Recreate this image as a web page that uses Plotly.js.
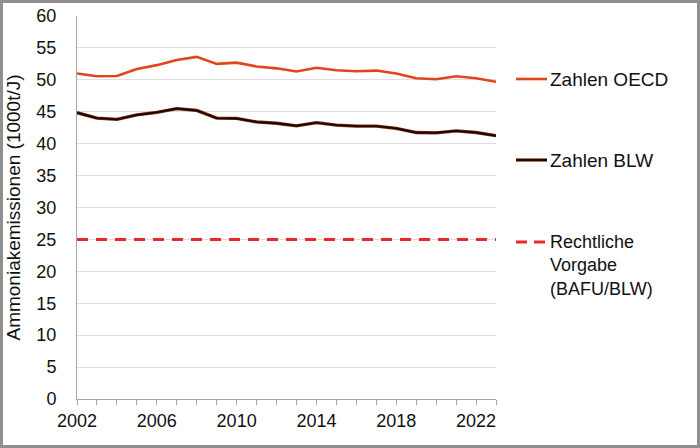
<!DOCTYPE html>
<html>
<head>
<meta charset="utf-8">
<script src="https://cdn.plot.ly/plotly-3.0.1.min.js"></script>
<style>
  html, body { margin: 0; padding: 0; background: #fff; }
  #wrap { position: relative; width: 700px; height: 448px; }
  #chart { width: 700px; height: 448px; }
  #frame { position: absolute; left: 0; top: 0; width: 700px; height: 448px;
           box-sizing: border-box; border: 3px solid #8f8f8f; pointer-events: none; }
</style>
</head>
<body>
<div id="wrap"><div id="chart"></div><div id="frame"></div></div>
<script>
// Ammonia emissions in Switzerland, 1000 t per year
const years = [2002, 2003, 2004, 2005, 2006, 2007, 2008, 2009, 2010, 2011, 2012,
               2013, 2014, 2015, 2016, 2017, 2018, 2019, 2020, 2021, 2022, 2023];
const oecd = [51.0, 50.55, 50.6, 51.7, 52.3, 53.1, 53.6, 52.5, 52.7, 52.1, 51.8,
              51.3, 51.9, 51.5, 51.35, 51.45, 51.0, 50.25, 50.1, 50.55, 50.25, 49.7];
const blw = [44.85, 44.0, 43.8, 44.5, 44.9, 45.5, 45.2, 44.0, 43.95, 43.4, 43.2,
             42.8, 43.3, 42.9, 42.75, 42.75, 42.4, 41.75, 41.7, 42.0, 41.75, 41.25];
const target = [25, 25, 25, 25, 25, 25, 25, 25, 25, 25, 25,
                25, 25, 25, 25, 25, 25, 25, 25, 25, 25, 25];

const legendLabels = ['Zahlen OECD', 'Zahlen BLW', 'Rechtliche<br>Vorgabe<br>(BAFU/BLW)'];
const yTitle = 'Ammoniakemissionen (1000t/J)';

const cOecd = '#e0451b';
const cBlwEdge = '#7e2a10';
const cBlw = '#1c0703';
const cTarget = '#e8292b';

const traces = [
  { x: years, y: target, type: 'scatter', mode: 'lines', name: 'Rechtliche Vorgabe',
    line: { color: cTarget, width: 3, dash: '11px,8px' }, hoverinfo: 'skip' },
  { x: years, y: oecd, type: 'scatter', mode: 'lines', name: 'Zahlen OECD',
    line: { color: cOecd, width: 2.6 } },
  { x: years, y: blw, type: 'scatter', mode: 'lines', name: 'BLW edge',
    line: { color: cBlwEdge, width: 3.3 }, hoverinfo: 'skip' },
  { x: years, y: blw, type: 'scatter', mode: 'lines', name: 'Zahlen BLW',
    line: { color: cBlw, width: 1.9 } }
];

const font = { family: 'Liberation Sans, Arial, sans-serif', size: 18, color: '#111' };
const bigFont = { family: 'Liberation Sans, Arial, sans-serif', size: 19, color: '#111' };

// legend drawn beside the plot area (paper coords)
const px = v => (v - 77) / 419;
const py = v => (399 - v) / 383;

const shapes = [
  { type: 'line', xref: 'paper', yref: 'paper', x0: px(516), x1: px(547), y0: py(79), y1: py(79),
    line: { color: cOecd, width: 2.6 } },
  { type: 'line', xref: 'paper', yref: 'paper', x0: px(516), x1: px(547), y0: py(160), y1: py(160),
    line: { color: cBlwEdge, width: 3.3 } },
  { type: 'line', xref: 'paper', yref: 'paper', x0: px(516), x1: px(547), y0: py(160), y1: py(160),
    line: { color: cBlw, width: 1.9 } },
  { type: 'line', xref: 'paper', yref: 'paper', x0: px(516), x1: px(547), y0: py(242), y1: py(242),
    line: { color: cTarget, width: 3, dash: '11px,7px' } }
];

const annotations = [
  { xref: 'paper', yref: 'paper', x: px(548), y: py(79), xanchor: 'left', yanchor: 'middle',
    text: legendLabels[0], showarrow: false, font: bigFont },
  { xref: 'paper', yref: 'paper', x: px(548), y: py(160), xanchor: 'left', yanchor: 'middle',
    text: legendLabels[1], showarrow: false, font: bigFont },
  { xref: 'paper', yref: 'paper', x: px(548), y: py(230), xanchor: 'left', yanchor: 'top',
    text: legendLabels[2], showarrow: false, font: font, align: 'left' }
];

const layout = {
  width: 700, height: 448,
  margin: { l: 77, r: 204, t: 16, b: 49 },
  paper_bgcolor: '#fff', plot_bgcolor: '#fff',
  font: font,
  showlegend: false,
  xaxis: {
    range: [2002, 2023], tick0: 2002, dtick: 4,
    showgrid: false, zeroline: false,
    showline: true, linecolor: '#a6a6a6', linewidth: 1,
    ticks: 'outside', ticklen: 5, tickcolor: '#a6a6a6',
    minor: { dtick: 1, tick0: 2002, ticks: 'outside', ticklen: 5, tickcolor: '#a6a6a6', showgrid: false },
    tickfont: font, fixedrange: true
  },
  yaxis: {
    range: [0, 60], dtick: 5,
    showgrid: true, gridcolor: '#dedede', gridwidth: 1,
    zeroline: false, showline: true, linecolor: '#a6a6a6', linewidth: 1,
    ticks: '', ticklabelstandoff: 16,
    tickfont: font,
    title: { text: yTitle, font: bigFont, standoff: 10 },
    fixedrange: true
  },
  shapes: shapes,
  annotations: annotations
};

Plotly.newPlot('chart', traces, layout, { displayModeBar: false, staticPlot: true });
</script>
</body>
</html>
